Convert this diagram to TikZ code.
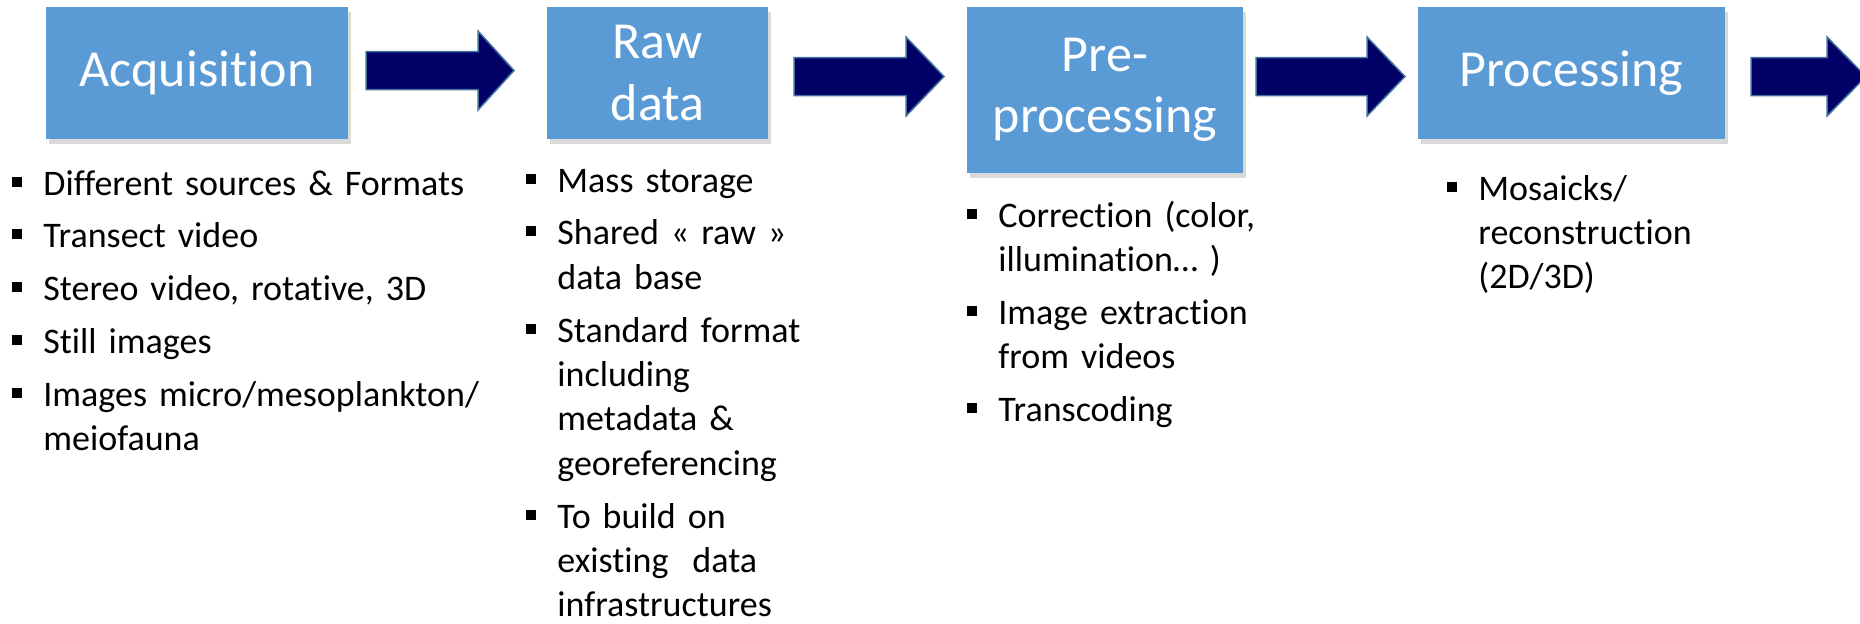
\documentclass[tikz,border=0pt]{standalone}
\usepackage{fontspec}
\setmainfont[Ligatures=NoCommon]{Carlito}
\usetikzlibrary{shadows}
\definecolor{stepblue}{HTML}{5B9BD5}
\definecolor{arrownavy}{HTML}{000066}
\definecolor{arrowrim}{HTML}{41719C}

% square bullet with its indent
\newcommand{\sqb}{\makebox[15.5pt][l]{\raisebox{4.2pt}{\rule{5pt}{5pt}}}}
\newcommand{\ind}{\hspace*{15.5pt}}
% block arrow: tail x, neck x, tip x, middle y
\newcommand{\flowarrow}[4]{%
  \draw[arrowbody] (#1,#4-19) -- (#2,#4-19) -- (#2,#4-39.5) -- (#3,#4)
    -- (#2,#4+39.5) -- (#2,#4+19) -- (#1,#4+19) -- cycle;}

\begin{document}
\frenchspacing
\begin{tikzpicture}[x=0.5pt,y=-0.5pt,
    stepbox/.style={fill=stepblue, text=white, inner sep=0pt, align=center,
      minimum height=66pt, font=\fontsize{26}{30.75}\selectfont,
      drop shadow={shadow xshift=1.5pt, shadow yshift=-2.5pt, opacity=0.3}},
    arrowbody/.style={fill=arrownavy, draw=arrowrim, line width=0.75pt, line join=miter},
    bullets/.style={anchor=base west, inner sep=0pt, text width=240pt, align=left,
      font=\fontsize{18}{22.2}\selectfont}]
  \clip (0,0) rectangle (1860,623);
  % boxes
  \node[stepbox, minimum width=151pt] (acq) at (197,73) {Acquisition};
  \node[stepbox, minimum width=110.5pt] (raw) at (657.5,73) {Raw\\data};
  \node[stepbox, minimum width=138pt, minimum height=83pt] (prep) at (1105,90) {Pre-\\processing};
  \node[stepbox, minimum width=153.5pt] (proc) at (1571.5,73) {Processing};
  % arrows
  \flowarrow{366}{478}{514}{70.5}
  \flowarrow{794}{906}{944}{76.5}
  \flowarrow{1256}{1367}{1405}{76.5}
  \flowarrow{1751}{1827}{1866}{76.5}
  % lists
  \node[bullets] (acqlist) at (12,195) {%
    \sqb Different sources \& Formats\\[4.2pt]
    \sqb Transect video\\[4.2pt]
    \sqb Stereo video, rotative, 3D\\[4.2pt]
    \sqb Still images\\[4.2pt]
    \sqb Images micro/mesoplankton/\\
    \ind meiofauna};
  \node[bullets] (rawlist) at (526,192) {%
    \sqb Mass storage\\[4.2pt]
    \sqb Shared « raw »\\
    \ind data base\\[4.2pt]
    \sqb Standard format\\
    \ind including\\
    \ind metadata \&\\
    \ind georeferencing\\[4.2pt]
    \sqb To build on\\
    \ind existing~ data\\
    \ind infrastructures};
  \node[bullets] (preplist) at (967,227) {%
    \sqb Correction (color,\\
    \ind illumination… )\\[4.2pt]
    \sqb Image extraction\\
    \ind from videos\\[4.2pt]
    \sqb Transcoding};
  \node[bullets] (proclist) at (1447,200) {%
    \sqb Mosaicks/\\
    \ind reconstruction\\
    \ind (2D/3D)};
\end{tikzpicture}
\end{document}
